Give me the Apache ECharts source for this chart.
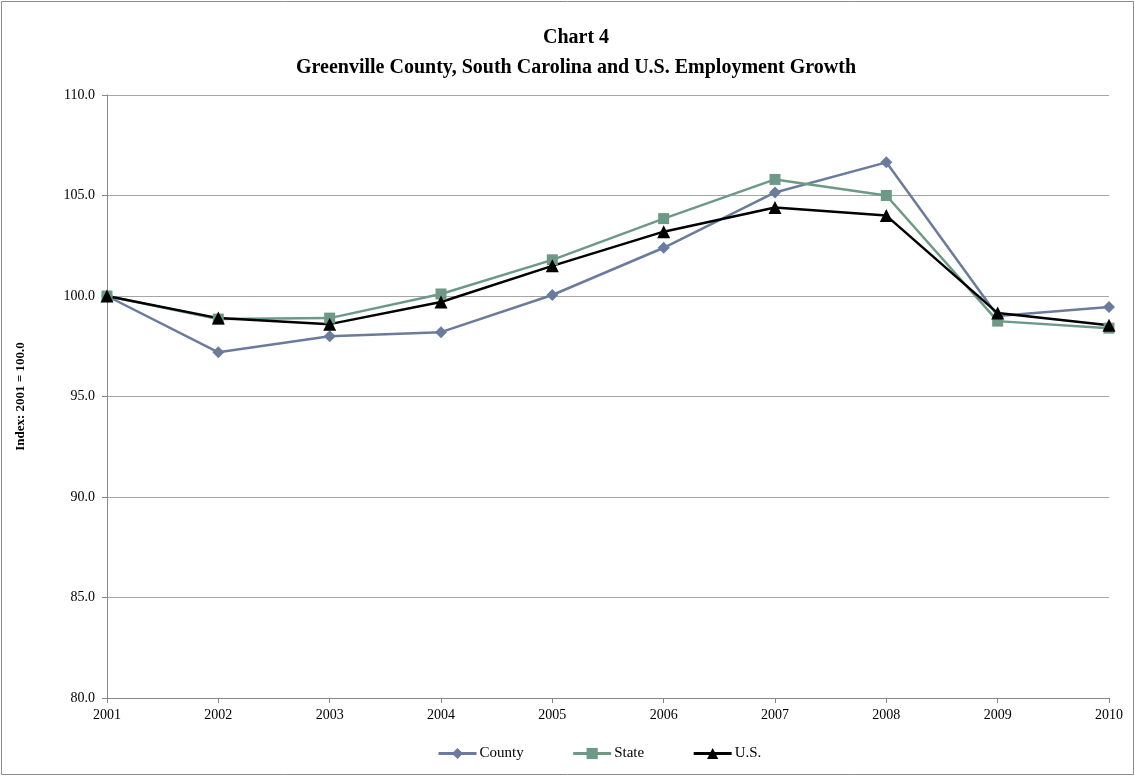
<!DOCTYPE html>
<html><head><meta charset="utf-8">
<script src="https://cdn.jsdelivr.net/npm/echarts@6/dist/echarts.min.js"></script>
<style>html,body{margin:0;padding:0;background:#fff}#c{width:1135px;height:776px}</style>
</head><body><div id="c"></div>
<script>
const years = ['2001','2002','2003','2004','2005','2006','2007','2008','2009','2010'];
const county = [100.0, 97.2, 98.0, 98.2, 100.05, 102.4, 105.15, 106.65, 99.0, 99.45];
const state  = [100.0, 98.85, 98.9, 100.1, 101.8, 103.85, 105.8, 105.0, 98.75, 98.4];
const us     = [100.0, 98.9, 98.6, 99.7, 101.5, 103.2, 104.4, 104.0, 99.15, 98.55];
const yTicks = [80, 85, 90, 95, 100, 105, 110];

const font = '"Liberation Serif","Times New Roman",serif';
const chart = echarts.init(document.getElementById('c'), null, {renderer:'canvas'});
chart.setOption({
  animation:false,
  backgroundColor:'#fff',
  textStyle:{fontFamily:font},
  title:{
    text:'Chart 4\nGreenville County, South Carolina and U.S. Employment Growth',
    left:571, top:18, textAlign:'center',
    textStyle:{fontFamily:font,fontSize:20,fontWeight:'bold',color:'#000',lineHeight:30}
  },
  graphic:[{type:'rect',shape:{x:1.5,y:1.5,width:1132,height:773},style:{fill:'none',stroke:'#8c8c8c',lineWidth:1},silent:true}],
  legend:{
    bottom:10, left:432, itemWidth:38, itemHeight:14, itemGap:48,
    lineStyle:{width:3},
    textStyle:{fontFamily:font,fontSize:15,color:'#000',padding:[0,0,0,-2]},
    data:['County','State','U.S.']
  },
  grid:{left:107,right:26,top:95,bottom:78,containLabel:false},
  xAxis:{
    type:'category', data:years, boundaryGap:false,
    axisLine:{lineStyle:{color:'#888',width:1}},
    axisTick:{show:true,alignWithLabel:true,length:5,lineStyle:{color:'#888'}},
    axisLabel:{fontFamily:font,fontSize:14,color:'#000',margin:10},
    splitLine:{show:false}
  },
  yAxis:{
    type:'value', min:yTicks[0], max:yTicks[yTicks.length-1], interval:5,
    name:'Index: 2001 = 100.0', nameLocation:'middle', nameGap:80, nameRotate:90,
    nameTextStyle:{fontFamily:font,fontSize:13,fontWeight:'bold',color:'#000'},
    axisLine:{show:true,lineStyle:{color:'#888',width:1}},
    axisTick:{show:true,length:5,lineStyle:{color:'#888'}},
    axisLabel:{fontFamily:font,fontSize:14,color:'#000',margin:12,formatter:v=>v.toFixed(1)},
    splitLine:{show:true,lineStyle:{color:'#a6a6a6',width:1}}
  },
  series:[
    {name:'County',type:'line',data:county,symbol:'diamond',symbolSize:12,
     lineStyle:{color:'#6A7B9E',width:2.5},itemStyle:{color:'#6A7B9E'}},
    {name:'State',type:'line',data:state,symbol:'rect',symbolSize:11,
     lineStyle:{color:'#6C9A86',width:2.5},itemStyle:{color:'#6C9A86'}},
    {name:'U.S.',type:'line',data:us,symbol:'triangle',symbolSize:13,
     lineStyle:{color:'#000',width:2.5},itemStyle:{color:'#000'}}
  ]
});
</script></body></html>
